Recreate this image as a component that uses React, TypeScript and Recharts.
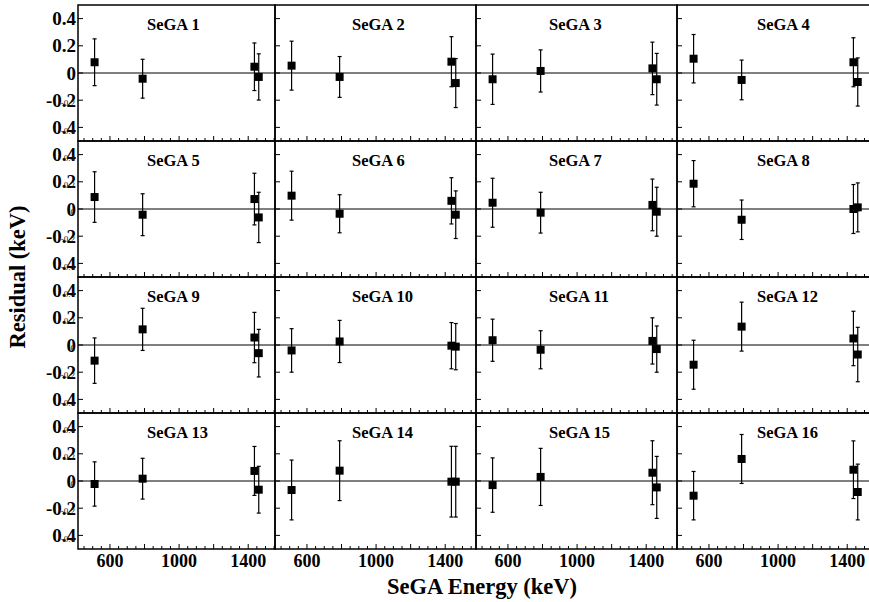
import React from 'react';
import {
  ScatterChart,
  Scatter,
  XAxis,
  YAxis,
  ZAxis,
  ErrorBar,
  ReferenceLine,
  ReferenceArea,
} from 'recharts';

// calibration lines used for every detector (keV)
const ENERGIES = [511, 789, 1436, 1461];

const DETECTORS = [
  'SeGA 1', 'SeGA 2', 'SeGA 3', 'SeGA 4',
  'SeGA 5', 'SeGA 6', 'SeGA 7', 'SeGA 8',
  'SeGA 9', 'SeGA 10', 'SeGA 11', 'SeGA 12',
  'SeGA 13', 'SeGA 14', 'SeGA 15', 'SeGA 16',
];

// fit residuals (keV), one row per detector, in ENERGIES order
const RESIDUALS = [
  [0.079, -0.042, 0.046, -0.029],
  [0.054, -0.029, 0.083, -0.074],
  [-0.046, 0.015, 0.034, -0.046],
  [0.105, -0.051, 0.079, -0.066],
  [0.088, -0.042, 0.073, -0.062],
  [0.098, -0.035, 0.06, -0.042],
  [0.046, -0.027, 0.03, -0.02],
  [0.186, -0.079, 0.0, 0.012],
  [-0.115, 0.115, 0.055, -0.06],
  [-0.04, 0.026, -0.005, -0.012],
  [0.035, -0.035, 0.03, -0.03],
  [-0.145, 0.135, 0.048, -0.07],
  [-0.022, 0.017, 0.074, -0.064],
  [-0.066, 0.076, -0.005, -0.005],
  [-0.03, 0.03, 0.061, -0.047],
  [-0.108, 0.162, 0.083, -0.081],
];

// 1-sigma uncertainties (keV)
const ERRORS = [
  [0.172, 0.143, 0.175, 0.17],
  [0.18, 0.15, 0.184, 0.18],
  [0.185, 0.155, 0.193, 0.19],
  [0.178, 0.146, 0.18, 0.177],
  [0.186, 0.154, 0.19, 0.185],
  [0.18, 0.14, 0.17, 0.175],
  [0.18, 0.15, 0.19, 0.18],
  [0.17, 0.145, 0.18, 0.18],
  [0.167, 0.155, 0.185, 0.175],
  [0.16, 0.155, 0.17, 0.17],
  [0.155, 0.14, 0.17, 0.17],
  [0.18, 0.18, 0.2, 0.2],
  [0.163, 0.15, 0.18, 0.172],
  [0.22, 0.22, 0.26, 0.26],
  [0.2, 0.21, 0.235, 0.228],
  [0.178, 0.18, 0.212, 0.205],
];

const X_TICKS = [
  450, 500, 550, 600, 650, 700, 750, 800, 850, 900, 950, 1000,
  1050, 1100, 1150, 1200, 1250, 1300, 1350, 1400, 1450, 1500, 1550,
];
const X_MAJOR = [600, 800, 1000, 1200, 1400];
const X_LABELS = [600, 1000, 1400];
const Y_TICKS = [0.4, 0.2, 0, -0.2, -0.4];
const Y_LABELS = ['0.4', '0.2', '0', '-0.2', '0.4'];
const Y_SMALL_LABELS = ['0.4', '0.2', '0', '-0.2', '-0.4'];

const COL_X = [78, 275, 476, 677];
const COL_W = [197, 201, 201, 201];
const ROW_Y = [5, 141, 277, 413];
const ROW_H = 136;
const TITLE_X = [147, 352, 549, 757];
const E_MIN = 415;
const PX_PER_KEV = 0.1728;
const FONT = '"Liberation Serif", "Times New Roman", serif';

const XTick = ({ x, y, payload, showLabel }: any) => {
  const v = payload.value;
  const len = X_MAJOR.includes(v) ? 5 : 3;
  return (
    <g>
      <line x1={x} x2={x} y1={y} y2={y - len} stroke="#000" strokeWidth={1} />
      {showLabel && X_LABELS.includes(v) && (
        <text
          x={x}
          y={y + 18}
          textAnchor="middle"
          fontFamily={FONT}
          fontWeight="bold"
          fontSize={18}
          fill="#000"
        >
          {v}
        </text>
      )}
    </g>
  );
};

const YTick = ({ x, y, payload, showLabel, row }: any) => {
  const i = Y_TICKS.indexOf(payload.value);
  return (
    <g>
      <line x1={x} x2={x + 5} y1={y} y2={y} stroke="#000" strokeWidth={1} />
      {showLabel && (
        <text
          x={x - 2}
          y={y}
          dy="0.35em"
          textAnchor="end"
          fontFamily={FONT}
          fontWeight="bold"
          fontSize={19}
          fill="#000"
        >
          {Y_LABELS[i]}
        </text>
      )}
      {showLabel && (row > 0 || payload.value < 0) && (
        <text
          x={x - 3}
          y={y + 3}
          dy="0.35em"
          textAnchor="end"
          fontFamily={FONT}
          fontSize={9}
          fill="#222"
        >
          {Y_SMALL_LABELS[i]}
        </text>
      )}
    </g>
  );
};

const Panel = ({ index }: { index: number }) => {
  const row = Math.floor(index / 4);
  const col = index % 4;
  const w = COL_W[col];
  const xMax = E_MIN + w / PX_PER_KEV;
  const data = ENERGIES.map((e, k) => ({
    x: e,
    y: RESIDUALS[index][k],
    err: ERRORS[index][k],
  }));

  // axes get a 1px band so they render; the plot box itself is w x ROW_H
  return (
    <div style={{ position: 'absolute', left: COL_X[col] - 1, top: ROW_Y[row] }}>
      <ScatterChart width={w + 1} height={ROW_H + 1} margin={{ top: 0, right: 0, bottom: 0, left: 0 }}>
        <XAxis
          type="number"
          dataKey="x"
          domain={[E_MIN, xMax]}
          ticks={X_TICKS}
          interval={0}
          allowDataOverflow
          axisLine={false}
          tickLine={false}
          tickSize={0}
          tickMargin={0}
          height={1}
          tick={(p: any) => <XTick {...p} showLabel={row === 3} />}
        />
        <YAxis
          type="number"
          dataKey="y"
          domain={[-0.5, 0.5]}
          ticks={Y_TICKS}
          interval={0}
          allowDataOverflow
          axisLine={false}
          tickLine={false}
          tickSize={0}
          tickMargin={0}
          width={1}
          tick={(p: any) => <YTick {...p} showLabel={col === 0} row={row} />}
        />
        <ZAxis range={[46, 46]} />
        <ReferenceLine y={0} stroke="#000" strokeWidth={1.2} />
        <ReferenceArea
          x1={E_MIN}
          x2={xMax}
          y1={-0.5}
          y2={0.5}
          fill="none"
          fillOpacity={0}
          stroke="#000"
          strokeWidth={1.5}
          ifOverflow="visible"
        />
        <Scatter data={data} shape="square" fill="#000" isAnimationActive={false}>
          <ErrorBar
            dataKey="err"
            direction="y"
            width={2}
            stroke="#000"
            strokeWidth={1.2}
            isAnimationActive={false}
          />
        </Scatter>
      </ScatterChart>
    </div>
  );
};

export default function App() {
  return (
    <div
      style={{
        position: 'absolute',
        left: 0,
        top: 0,
        width: 869,
        height: 602,
        overflow: 'hidden',
        background: '#fff',
      }}
    >
      <style>{'.recharts-surface { overflow: visible; }'}</style>
      {DETECTORS.map((_, i) => (
        <Panel key={i} index={i} />
      ))}
      <svg
        width={869}
        height={602}
        style={{ position: 'absolute', left: 0, top: 0, pointerEvents: 'none' }}
      >
        {DETECTORS.map((name, i) => (
          <text
            key={name}
            x={TITLE_X[i % 4]}
            y={ROW_Y[Math.floor(i / 4)] + 25}
            fontFamily={FONT}
            fontWeight="bold"
            fontSize={16.5}
            fill="#000"
          >
            {name}
          </text>
        ))}
        <text
          x={482}
          y={594}
          textAnchor="middle"
          fontFamily={FONT}
          fontWeight="bold"
          fontSize={22.5}
          fill="#000"
        >
          SeGA Energy (keV)
        </text>
        <text
          transform="translate(25, 277) rotate(-90)"
          textAnchor="middle"
          fontFamily={FONT}
          fontWeight="bold"
          fontSize={22.5}
          fill="#000"
        >
          Residual (keV)
        </text>
      </svg>
    </div>
  );
}
